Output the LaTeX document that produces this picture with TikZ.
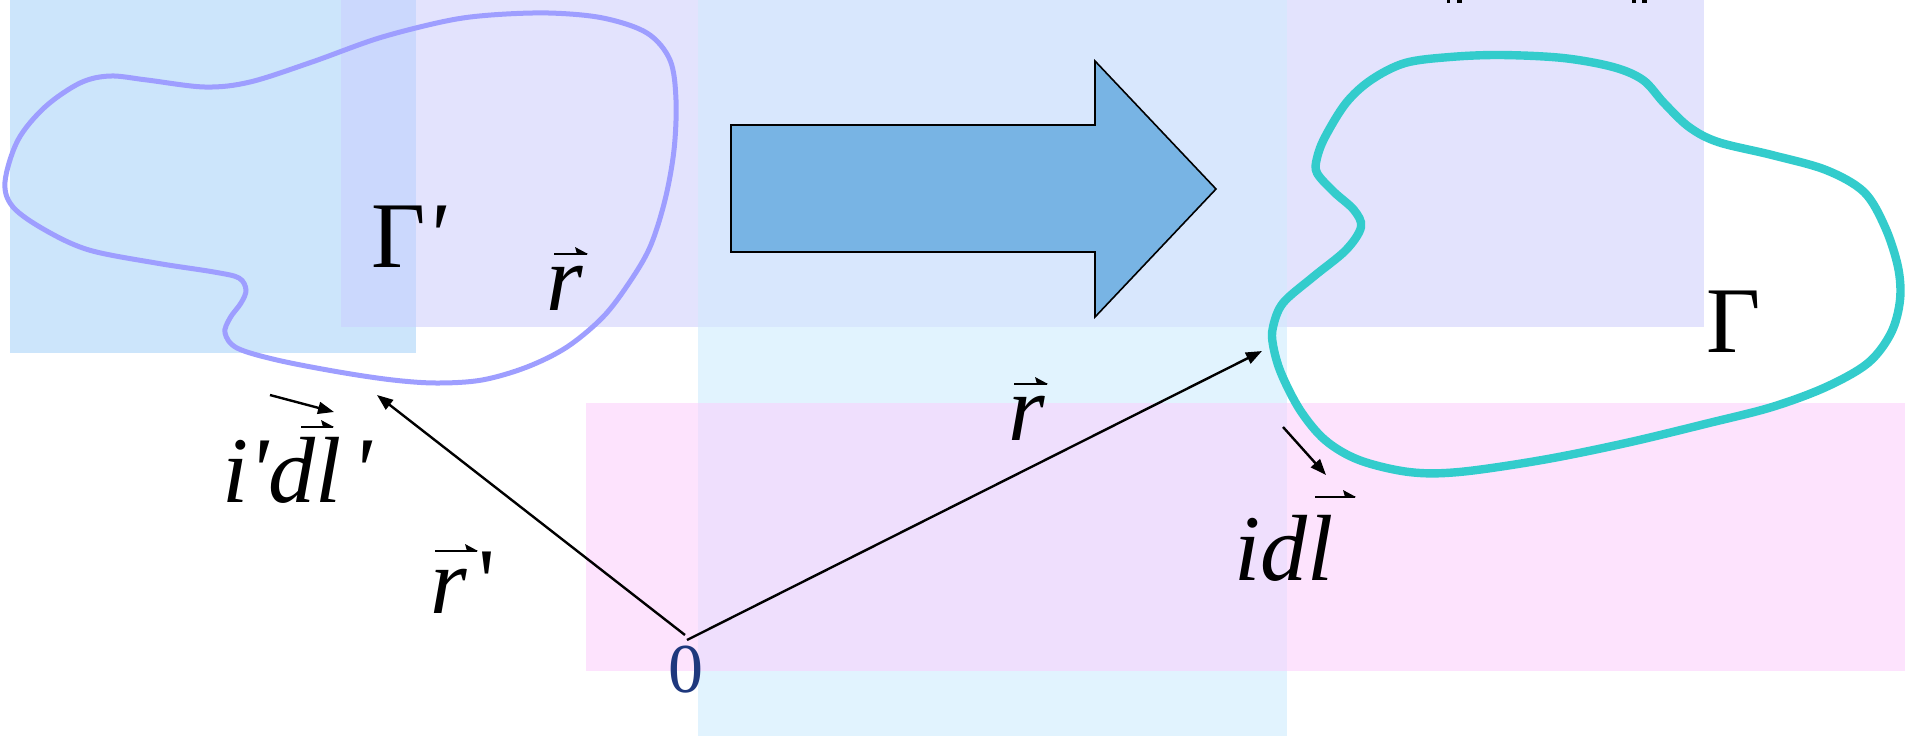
\documentclass[tikz,border=0pt]{standalone}
\usepackage{fontspec}
\setmainfont{Liberation Serif}
\usetikzlibrary{arrows.meta}
\definecolor{bgblue}{HTML}{CCE5FB}
\definecolor{bglav}{HTML}{E3E3FD}
\definecolor{bgcyan}{HTML}{E1F3FE}
\definecolor{bgpink}{HTML}{FDE3FD}
\definecolor{ovbluelav}{HTML}{CBD8FD}
\definecolor{ovlavcyan}{HTML}{D8E7FD}
\definecolor{ovcyanpink}{HTML}{EFDFFD}
\definecolor{bigarrow}{HTML}{78B4E4}
\definecolor{loopA}{HTML}{9E9EFF}
\definecolor{loopB}{HTML}{33CCCC}
\definecolor{zeroblue}{RGB}{30,56,125}
\newcommand\vecacc[3]{%
  \draw[line width=1.1pt] (#1,#3) -- (#2,#3);
  \fill (#2+1,#3) -- ++(-13,-7) -- ++(2,7) -- cycle;}
\begin{document}
\begin{tikzpicture}[x=0.5pt,y=-0.5pt,
  conn/.style={line width=1.2pt,-{Triangle[length=8pt,width=6pt]}},
  lbl/.style={inner sep=0pt,anchor=base west,font=\fontsize{47}{50}\selectfont\itshape},
  ulbl/.style={inner sep=0pt,anchor=base west,font=\fontsize{47}{50}\selectfont\upshape},
  loopleft/.style={draw=loopA,line width=2.5pt},
  loopright/.style={draw=loopB,line width=4.2pt}]
\useasboundingbox (0,0) rectangle (1905,736);
\clip (0,0) rectangle (1905,736);
% background panels
\fill[bgblue] (10,0) rectangle (416,353);
\fill[bglav] (341,0) rectangle (1704,327);
\fill[bgcyan] (698,0) rectangle (1287,736);
\fill[bgpink] (586,403) rectangle (1905,671);
\fill[ovbluelav] (341,0) rectangle (416,327);
\fill[ovlavcyan] (698,0) rectangle (1287,327);
\fill[ovcyanpink] (698,403) rectangle (1287,671);
% cut-off marks at the top edge
\fill (1447,0) rectangle (1450,3);
\fill (1457,0) rectangle (1462,3);
\fill (1632,0) rectangle (1636,3);
\fill (1642,0) rectangle (1647,3);
% big arrow
\draw[fill=bigarrow,line width=0.8pt,line join=miter]
  (731,125) -- (1095,125) -- (1095,61) -- (1216,189) -- (1095,317) -- (1095,252) -- (731,252) -- cycle;
% left loop Gamma'
\draw[loopleft] plot[smooth cycle,tension=0.55] coordinates {
 (5,182) (18,140) (45,107) (80,83) (110,76) (147,80) (205,87) (250,82) (312,62)
 (379,38) (446,21) (491,15) (549,13) (603,18) (647,33) (670,60) (676,100)
 (674,150) (665,200) (650,247) (629,283) (603,317) (567,347) (527,367)
 (482,380) (437,383) (393,380) (339,372) (277,360) (237,348) (225,333)
 (230,318) (241,303) (246,290) (239,278) (214,272) (156,263) (89,250)
 (45,230) (13,207)};
% right loop Gamma
\draw[loopright] plot[smooth cycle,tension=0.55] coordinates {
 (1273,327) (1283,303) (1313,277) (1346,250) (1361,227) (1354,210) (1334,192)
 (1317,173) (1317,158) (1325,137) (1346,103) (1371,80) (1405,63) (1450,57)
 (1501,55) (1563,58) (1613,67) (1643,80) (1664,103) (1689,127) (1718,142)
 (1772,155) (1826,170) (1864,192) (1885,227) (1898,267) (1900,300) (1891,333)
 (1868,363) (1826,387) (1772,407) (1709,423) (1626,443) (1542,460) (1459,472)
 (1409,472) (1359,460) (1325,440) (1300,410) (1281,373) (1273,345)};
% labels
\node[ulbl] (gammap) at (371,267) {Γ{\itshape\textquotesingle}};
\node[ulbl] (gamma) at (1706,352) {Γ};
\node[lbl] (rtop) at (546,310) {r};
\node[lbl] (rmid) at (1008,440) {r};
\node[lbl] (rprime) at (430,613) {r\kern6pt\upshape\textquotesingle};
\node[lbl] (idlp) at (222,502) {i\textquotesingle dl\kern5pt\textquotesingle};
\node[lbl] (idl) at (1234,580) {idl};
\node[inner sep=0pt,anchor=base west,font=\fontsize{35}{38}\selectfont,text=zeroblue] (zero) at (668,692) {0};
% vector accents
\vecacc{554}{587}{254}
\vecacc{1014}{1047}{384}
\vecacc{435}{477}{551}
\vecacc{301}{333}{427}
\vecacc{1315}{1355}{497}
% connectors
\coordinate (oA) at (685,635);
\coordinate (oB) at (687,640);
\coordinate (rpTip) at (377,395);
\coordinate (rTip) at (1262,351);
\coordinate (dlpS) at (270,395);
\coordinate (dlpE) at (334,412);
\coordinate (dlS) at (1283,427);
\coordinate (dlE) at (1326,475);
\draw[conn] (oA) -- (rpTip);
\draw[conn] (oB) -- (rTip);
\draw[conn] (dlpS) -- (dlpE);
\draw[conn] (dlS) -- (dlE);
\end{tikzpicture}
\end{document}
